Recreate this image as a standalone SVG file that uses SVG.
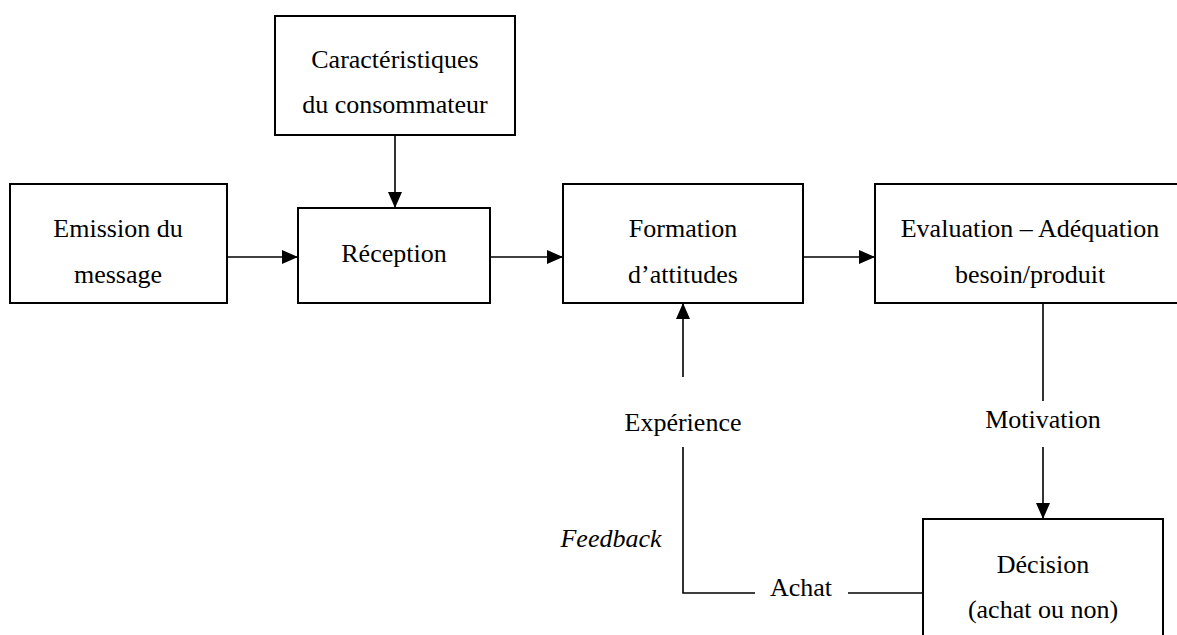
<svg xmlns="http://www.w3.org/2000/svg" width="1177" height="635" viewBox="0 0 1177 635">
<style>
.box{fill:#fff;stroke:#000;stroke-width:2}
.t{font-family:'Liberation Serif','Times New Roman',Tinos,'DejaVu Serif',serif;font-size:26px;fill:#000;text-anchor:middle}
.ln{fill:none;stroke:#000;stroke-width:1.6}
</style>
<defs>
<marker id="ah" markerUnits="userSpaceOnUse" markerWidth="16" markerHeight="16" viewBox="0 0 16 16" refX="16" refY="8" orient="auto">
<path d="M0,1 L16,8 L0,15 Z" fill="#000"/>
</marker>
</defs>
<rect width="1177" height="635" fill="#fff"/>
<g id="connectors">
<line class="ln" x1="395" y1="135" x2="395" y2="208" marker-end="url(#ah)"/>
<line class="ln" x1="227" y1="257" x2="298" y2="257" marker-end="url(#ah)"/>
<line class="ln" x1="490" y1="257" x2="563" y2="257" marker-end="url(#ah)"/>
<line class="ln" x1="803" y1="257" x2="875" y2="257" marker-end="url(#ah)"/>
<line class="ln" x1="683" y1="377" x2="683" y2="303" marker-end="url(#ah)"/>
<line class="ln" x1="1043" y1="303" x2="1043" y2="401"/>
<line class="ln" x1="1043" y1="447" x2="1043" y2="519" marker-end="url(#ah)"/>
<polyline class="ln" points="683,447 683,593 755,593"/>
<line class="ln" x1="848" y1="593" x2="923" y2="593"/>
</g>
<g id="caracteristiques">
<rect class="box" x="275" y="16" width="240" height="119"/>
<text class="t" x="395" y="68" font-family="Liberation Serif, serif">Caractéristiques</text>
<text class="t" x="395" y="113" font-family="Liberation Serif, serif">du consommateur</text>
</g>
<g id="emission">
<rect class="box" x="10" y="184" width="217" height="119"/>
<text class="t" x="118" y="237" font-family="Liberation Serif, serif">Emission du</text>
<text class="t" x="118" y="283" font-family="Liberation Serif, serif">message</text>
</g>
<g id="reception">
<rect class="box" x="298" y="208" width="192" height="95"/>
<text class="t" x="394" y="262" font-family="Liberation Serif, serif">Réception</text>
</g>
<g id="formation">
<rect class="box" x="563" y="184" width="240" height="119"/>
<text class="t" x="683" y="237" font-family="Liberation Serif, serif">Formation</text>
<text class="t" x="683" y="283" font-family="Liberation Serif, serif">d’attitudes</text>
</g>
<g id="evaluation">
<rect class="box" x="875" y="184" width="330" height="119"/>
<text class="t" x="1030" y="237" font-family="Liberation Serif, serif">Evaluation – Adéquation</text>
<text class="t" x="1030" y="283" font-family="Liberation Serif, serif">besoin/produit</text>
</g>
<g id="experience">
<text class="t" x="683" y="431" font-family="Liberation Serif, serif">Expérience</text>
</g>
<g id="motivation">
<text class="t" x="1043" y="428" font-family="Liberation Serif, serif">Motivation</text>
</g>
<g id="feedback">
<text class="t" x="611" y="547" font-style="italic" font-family="Liberation Serif, serif">Feedback</text>
</g>
<g id="achat">
<text class="t" x="801" y="596" font-family="Liberation Serif, serif">Achat</text>
</g>
<g id="decision">
<rect class="box" x="923" y="519" width="240" height="130"/>
<text class="t" x="1043" y="573" font-family="Liberation Serif, serif">Décision</text>
<text class="t" x="1043" y="618" font-family="Liberation Serif, serif">(achat ou non)</text>
</g>
</svg>
